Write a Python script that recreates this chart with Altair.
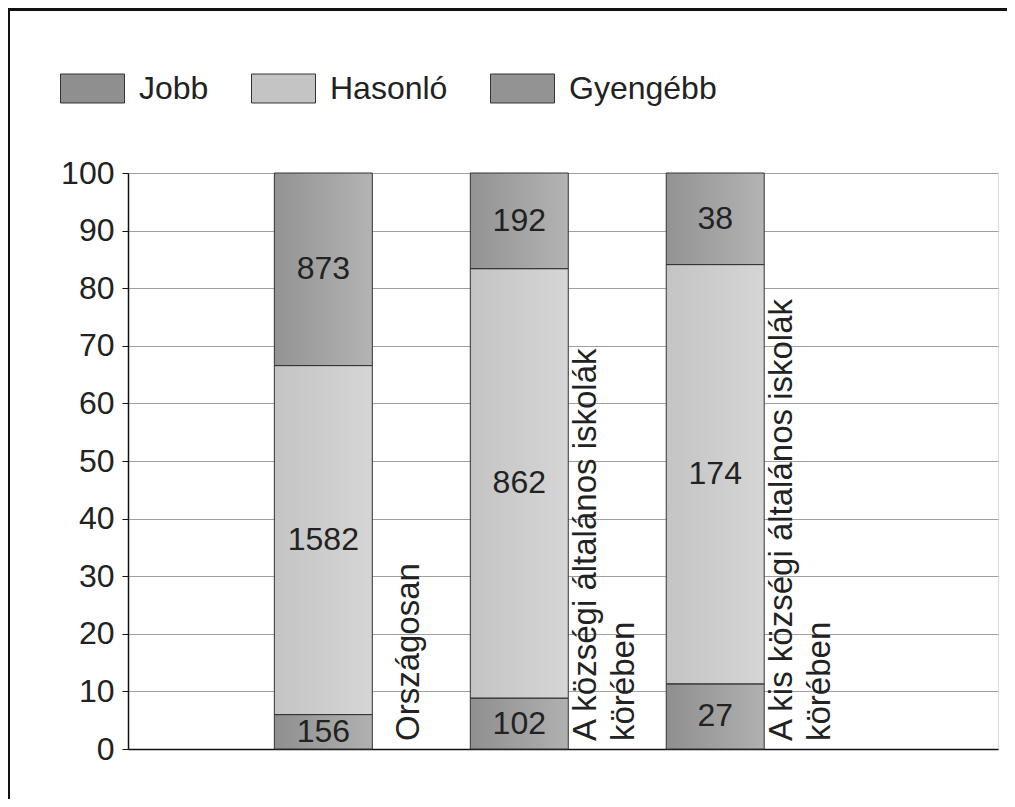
import altair as alt
import pandas as pd

categories = ["Országosan", "A községi általános iskolák körében", "A kis községi általános iskolák körében"]
cat_labels = ["Országosan", "A községi általános iskolák\nkörében", "A kis községi általános iskolák\nkörében"]
series = ["Jobb", "Hasonló", "Gyengébb"]
jobb = [156, 102, 27]
hasonlo = [1582, 862, 174]
gyengebb = [873, 192, 38]
y_ticks = [0, 10, 20, 30, 40, 50, 60, 70, 80, 90, 100]

rows = []
for i, c in enumerate(categories):
    for j, (s, vals) in enumerate(zip(series, [jobb, hasonlo, gyengebb])):
        rows.append({"cat": c, "series": s, "ord": j, "count": vals[i]})
df = pd.DataFrame(rows)
lab_df = pd.DataFrame({"cat": categories, "label": cat_labels})

W, H = 870, 576
FONT = "Liberation Sans"
FS = 32
colors = ["#8f8f8f", "#c4c4c4", "#939393"]

xscale = alt.Scale(domain=categories, paddingInner=0.5, paddingOuter=0.97, align=0.385)
yscale = alt.Scale(domain=[0, 100], nice=False)

xenc = alt.X("cat:N", scale=xscale, sort=categories,
             axis=alt.Axis(title=None, labels=False, ticks=False, grid=False,
                           domainColor="#111", domainWidth=1.5))

base = (
    alt.Chart(df)
    .transform_joinaggregate(total="sum(count)", groupby=["cat"])
    .transform_calculate(pct="datum.count / datum.total * 100")
    .transform_stack(stack="pct", groupby=["cat"], as_=["y0", "y1"],
                     sort=[alt.SortField("ord", order="ascending")])
    .transform_calculate(mid="(datum.y0 + datum.y1) / 2")
)

bars = base.mark_bar(strokeWidth=0).encode(
    x=xenc,
    y=alt.Y("y0:Q", scale=yscale,
            axis=alt.Axis(title=None, values=y_ticks, grid=True, gridColor="#a0a0a0",
                          gridWidth=1, domainColor="#111", domainWidth=1.5,
                          tickColor="#111", tickSize=6, labelPadding=8,
                          labelFont=FONT, labelFontSize=FS, labelColor="#222")),
    y2="y1:Q",
    color=alt.Color("series:N", scale=alt.Scale(domain=series, range=colors),
                    legend=alt.Legend(title=None, orient="none", legendX=-68, legendY=-117,
                                      direction="horizontal",
                                      symbolType="M-1,-0.453L1,-0.453L1,0.453L-1,0.453Z",
                                      symbolSize=4096, symbolStrokeColor="#333",
                                      symbolStrokeWidth=1, symbolOpacity=1,
                                      labelFont=FONT, labelFontSize=FS, labelColor="#222",
                                      labelOffset=14, columnPadding=40)),
)

shade = base.mark_bar(
    fill={"gradient": "linear", "x1": 0, "x2": 1, "y1": 0, "y2": 0,
          "stops": [{"offset": 0, "color": "rgba(255,255,255,0)"},
                    {"offset": 1, "color": "rgba(255,255,255,0.3)"}]},
    stroke="#333", strokeWidth=1,
).encode(x=xenc, y=alt.Y("y0:Q", scale=yscale), y2="y1:Q")

values = base.mark_text(font=FONT, fontSize=FS, color="#222", baseline="middle").encode(
    x=xenc, y=alt.Y("mid:Q", scale=yscale), text="count:Q"
)

label_style = dict(font=FONT, fontSize=33, color="#222", angle=270, align="left",
                   baseline="middle", lineBreak="\n", lineHeight=38, dx=8)

cat_text_single = (
    alt.Chart(lab_df)
    .transform_filter("indexof(datum.label, '\\n') < 0")
    .mark_text(xOffset=86, **label_style)
    .encode(x=xenc, y=alt.datum(0), text="label:N")
)
cat_text_multi = (
    alt.Chart(lab_df)
    .transform_filter("indexof(datum.label, '\\n') >= 0")
    .mark_text(xOffset=67, **label_style)
    .encode(x=xenc, y=alt.datum(0), text="label:N")
)

frame_df = pd.DataFrame({"k": [0]})
frame_top = alt.Chart(frame_df).mark_rule(color="#111", strokeWidth=3).encode(
    x=alt.value(-120), x2=alt.value(W + 20), y=alt.value(-163.5)
)
frame_left = alt.Chart(frame_df).mark_rule(color="#111", strokeWidth=3).encode(
    x=alt.value(-119.5), y=alt.value(-165), y2=alt.value(H + 60)
)

chart = (
    alt.layer(bars, shade, values, cat_text_single, cat_text_multi, frame_top, frame_left)
    .properties(width=W, height=H,
                autosize=alt.AutoSizeParams(type="none"),
                padding={"left": 120, "top": 165, "right": 9, "bottom": 50})
    .configure_view(stroke=None)
    .configure(background="white")
)

chart.save("out.html", embed_options={"renderer": "svg", "actions": False})
